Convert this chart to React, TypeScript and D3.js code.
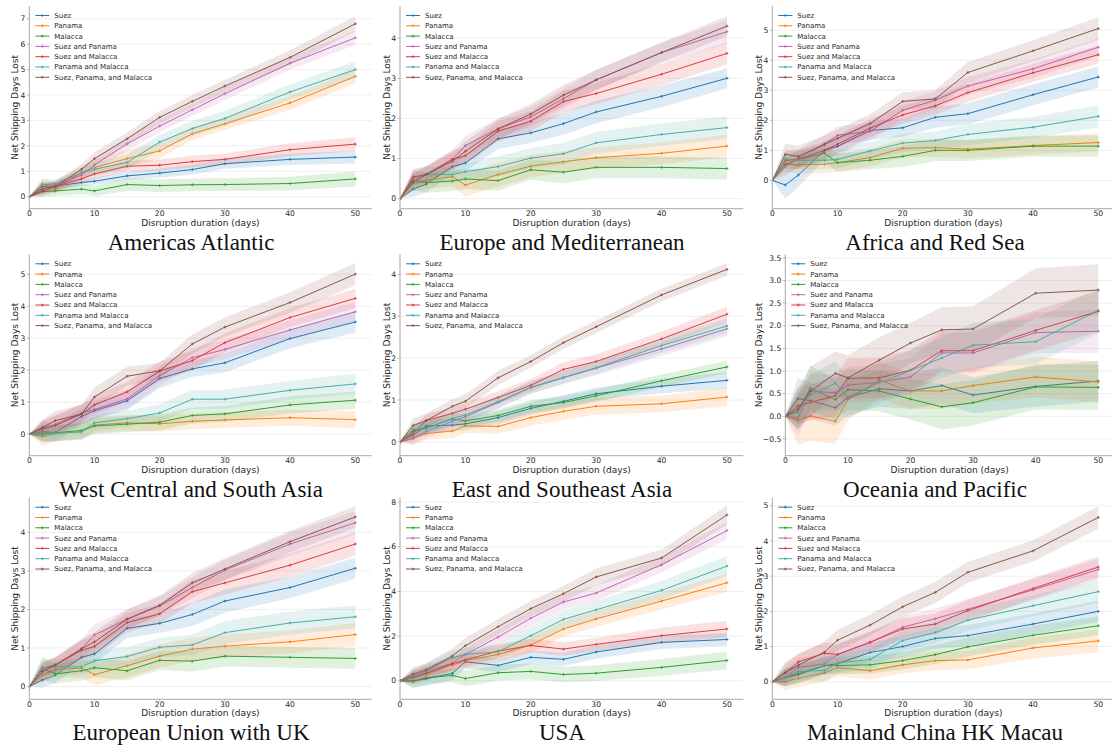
import * as d3 from "d3";
import React from "react";

// x values shared by every panel
const days = [0, 2, 4, 8, 10, 15, 20, 25, 30, 40, 50];
const xTicks = [0, 10, 20, 30, 40, 50];

const routes = [
  "Suez",
  "Panama",
  "Malacca",
  "Suez and Panama",
  "Suez and Malacca",
  "Panama and Malacca",
  "Suez, Panama, and Malacca",
];
const routeColors = ["#1f77b4", "#ff7f0e", "#2ca02c", "#c069b8", "#e0393e", "#4aaea3", "#8c564b"];

const regions = [
  "Americas Atlantic",
  "Europe and Mediterranean",
  "Africa and Red Sea",
  "West Central and South Asia",
  "East and Southeast Asia",
  "Oceania and Pacific",
  "European Union with UK",
  "USA",
  "Mainland China HK Macau",
];

// mean net shipping days lost, one row per route
const americasMean = [
  [0, 0.4, 0.42, 0.56, 0.61, 0.82, 0.93, 1.07, 1.3, 1.47, 1.56],
  [0, 0.5, 0.33, 0.95, 1.15, 1.5, 1.8, 2.48, 2.87, 3.69, 4.73],
  [0, 0.2, 0.23, 0.3, 0.23, 0.48, 0.44, 0.47, 0.48, 0.52, 0.7],
  [0, 0.3, 0.45, 0.85, 1.25, 2.08, 2.78, 3.42, 4.05, 5.25, 6.25],
  [0, 0.3, 0.42, 0.7, 0.9, 1.2, 1.24, 1.38, 1.47, 1.85, 2.07],
  [0, 0.48, 0.5, 0.95, 1.08, 1.35, 2.15, 2.68, 3.08, 4.12, 5.0],
  [0, 0.22, 0.4, 1.08, 1.5, 2.28, 3.12, 3.75, 4.35, 5.48, 6.8],
];
const americasCi = [
  [0, 0.2, 0.15, 0.15, 0.15, 0.15, 0.18, 0.2, 0.2, 0.22, 0.25],
  [0, 0.25, 0.2, 0.25, 0.3, 0.35, 0.3, 0.25, 0.25, 0.27, 0.28],
  [0, 0.2, 0.2, 0.2, 0.2, 0.25, 0.25, 0.25, 0.25, 0.27, 0.3],
  [0, 0.2, 0.2, 0.2, 0.25, 0.25, 0.25, 0.25, 0.25, 0.25, 0.28],
  [0, 0.2, 0.2, 0.2, 0.2, 0.22, 0.22, 0.23, 0.23, 0.25, 0.27],
  [0, 0.2, 0.2, 0.2, 0.25, 0.3, 0.3, 0.3, 0.3, 0.3, 0.33],
  [0, 0.2, 0.2, 0.2, 0.25, 0.25, 0.25, 0.25, 0.25, 0.28, 0.3],
];

const europeMean = [
  [0, 0.24, 0.36, 0.8, 0.89, 1.49, 1.64, 1.87, 2.16, 2.55, 3.0],
  [0, 0.38, 0.45, 0.55, 0.34, 0.6, 0.81, 0.92, 1.02, 1.13, 1.31],
  [0, 0.46, 0.4, 0.44, 0.49, 0.45, 0.72, 0.66, 0.78, 0.78, 0.75],
  [0, 0.5, 0.61, 0.98, 1.32, 1.74, 2.04, 2.49, 2.96, 3.64, 4.16],
  [0, 0.54, 0.6, 0.98, 1.07, 1.68, 1.93, 2.42, 2.62, 3.1, 3.62],
  [0, 0.42, 0.6, 0.6, 0.67, 0.8, 1.01, 1.12, 1.39, 1.6, 1.77],
  [0, 0.42, 0.6, 0.93, 1.18, 1.74, 2.11, 2.58, 2.96, 3.64, 4.3],
];
const europeCi = [
  [0, 0.2, 0.2, 0.2, 0.2, 0.25, 0.25, 0.28, 0.28, 0.27, 0.25],
  [0, 0.2, 0.2, 0.25, 0.28, 0.3, 0.28, 0.27, 0.27, 0.27, 0.28],
  [0, 0.25, 0.25, 0.25, 0.25, 0.25, 0.25, 0.28, 0.27, 0.27, 0.27],
  [0, 0.2, 0.2, 0.22, 0.25, 0.25, 0.25, 0.25, 0.25, 0.25, 0.3],
  [0, 0.2, 0.2, 0.22, 0.22, 0.25, 0.25, 0.27, 0.27, 0.27, 0.28],
  [0, 0.2, 0.2, 0.2, 0.22, 0.25, 0.25, 0.27, 0.27, 0.28, 0.28],
  [0, 0.2, 0.2, 0.22, 0.25, 0.25, 0.25, 0.25, 0.25, 0.25, 0.25],
];

const africaMean = [
  [0, -0.15, 0.18, 1.0, 1.13, 1.66, 1.75, 2.1, 2.22, 2.85, 3.44],
  [0, 0.54, 0.52, 0.54, 0.59, 0.76, 1.07, 1.09, 1.04, 1.16, 1.26],
  [0, 0.54, 0.69, 0.91, 0.59, 0.67, 0.8, 1.0, 1.0, 1.14, 1.14],
  [0, 0.45, 0.74, 1.2, 1.5, 1.63, 2.33, 2.67, 3.14, 3.71, 4.43],
  [0, 0.66, 0.71, 1.0, 1.2, 1.74, 2.18, 2.48, 2.92, 3.58, 4.18],
  [0, 0.71, 0.67, 0.67, 0.7, 0.98, 1.24, 1.33, 1.53, 1.77, 2.13],
  [0, 0.87, 0.8, 1.2, 1.4, 1.89, 2.63, 2.71, 3.59, 4.31, 5.05],
];
const africaCi = [
  [0, 0.45, 0.4, 0.3, 0.3, 0.3, 0.3, 0.35, 0.35, 0.35, 0.35],
  [0, 0.25, 0.3, 0.3, 0.3, 0.3, 0.3, 0.3, 0.3, 0.3, 0.3],
  [0, 0.3, 0.3, 0.3, 0.3, 0.3, 0.35, 0.35, 0.35, 0.35, 0.35],
  [0, 0.3, 0.3, 0.3, 0.3, 0.3, 0.3, 0.3, 0.3, 0.3, 0.3],
  [0, 0.3, 0.3, 0.3, 0.3, 0.3, 0.3, 0.3, 0.3, 0.3, 0.3],
  [0, 0.3, 0.3, 0.3, 0.3, 0.3, 0.3, 0.3, 0.35, 0.35, 0.37],
  [0, 0.35, 0.35, 0.3, 0.3, 0.3, 0.3, 0.3, 0.35, 0.35, 0.38],
];

const westAsiaMean = [
  [0, 0.07, 0.05, 0.55, 0.73, 1.04, 1.74, 2.04, 2.23, 2.99, 3.51],
  [0, -0.08, 0.02, 0.07, 0.28, 0.35, 0.32, 0.4, 0.44, 0.51, 0.45],
  [0, 0.0, 0.04, 0.11, 0.25, 0.31, 0.37, 0.58, 0.63, 0.91, 1.06],
  [0, 0.18, 0.3, 0.65, 0.77, 1.1, 1.83, 2.39, 2.65, 3.26, 3.83],
  [0, 0.15, 0.27, 0.62, 0.91, 1.32, 1.97, 2.3, 2.86, 3.65, 4.25],
  [0, 0.04, 0.02, 0.07, 0.35, 0.48, 0.66, 1.09, 1.09, 1.37, 1.57],
  [0, 0.2, 0.42, 0.62, 1.16, 1.81, 1.98, 2.82, 3.35, 4.12, 5.01],
];
const westAsiaCi = [
  [0, 0.3, 0.3, 0.25, 0.25, 0.3, 0.3, 0.25, 0.3, 0.3, 0.33],
  [0, 0.3, 0.25, 0.25, 0.25, 0.25, 0.25, 0.25, 0.25, 0.25, 0.27],
  [0, 0.25, 0.25, 0.25, 0.25, 0.25, 0.25, 0.25, 0.25, 0.27, 0.27],
  [0, 0.25, 0.3, 0.3, 0.3, 0.3, 0.3, 0.3, 0.3, 0.3, 0.3],
  [0, 0.25, 0.3, 0.3, 0.3, 0.3, 0.3, 0.3, 0.3, 0.3, 0.3],
  [0, 0.25, 0.25, 0.25, 0.25, 0.25, 0.27, 0.3, 0.3, 0.3, 0.32],
  [0, 0.25, 0.3, 0.3, 0.3, 0.3, 0.25, 0.3, 0.3, 0.32, 0.35],
];

const eastAsiaMean = [
  [0, 0.16, 0.38, 0.4, 0.43, 0.58, 0.8, 0.97, 1.15, 1.33, 1.47],
  [0, 0.08, 0.2, 0.26, 0.38, 0.37, 0.58, 0.73, 0.85, 0.91, 1.07],
  [0, 0.26, 0.33, 0.55, 0.5, 0.63, 0.85, 0.94, 1.1, 1.46, 1.79],
  [0, 0.09, 0.25, 0.49, 0.6, 0.94, 1.3, 1.53, 1.76, 2.22, 2.7],
  [0, 0.2, 0.51, 0.68, 0.78, 1.06, 1.35, 1.73, 1.92, 2.46, 3.05],
  [0, 0.3, 0.31, 0.56, 0.64, 0.96, 1.3, 1.54, 1.77, 2.3, 2.77],
  [0, 0.39, 0.51, 0.85, 0.97, 1.53, 1.92, 2.37, 2.75, 3.51, 4.12],
];
const eastAsiaCi = [
  [0, 0.15, 0.15, 0.15, 0.15, 0.15, 0.15, 0.15, 0.15, 0.17, 0.2],
  [0, 0.15, 0.15, 0.17, 0.17, 0.17, 0.2, 0.2, 0.2, 0.2, 0.22],
  [0, 0.15, 0.15, 0.15, 0.15, 0.15, 0.15, 0.15, 0.15, 0.15, 0.15],
  [0, 0.15, 0.15, 0.15, 0.15, 0.15, 0.15, 0.15, 0.17, 0.17, 0.18],
  [0, 0.15, 0.15, 0.15, 0.15, 0.15, 0.15, 0.17, 0.17, 0.17, 0.18],
  [0, 0.15, 0.15, 0.15, 0.15, 0.15, 0.15, 0.15, 0.15, 0.17, 0.18],
  [0, 0.17, 0.17, 0.17, 0.17, 0.17, 0.15, 0.15, 0.15, 0.15, 0.15],
];

const oceaniaMean = [
  [0, 0.39, 0.35, 0.19, 0.42, 0.61, 0.56, 0.68, 0.47, 0.66, 0.78],
  [0, -0.09, 0.01, -0.11, 0.37, 0.8, 0.56, 0.56, 0.68, 0.87, 0.76],
  [0, 0.1, 0.62, 0.37, 0.59, 0.56, 0.38, 0.21, 0.3, 0.65, 0.64],
  [0, -0.04, 0.56, 0.52, 0.69, 0.75, 0.87, 1.4, 1.4, 1.85, 1.88],
  [0, 0.23, 0.31, 0.45, 0.84, 0.85, 1.02, 1.45, 1.45, 1.9, 2.32],
  [0, 0.11, 0.47, 0.73, 0.42, 0.74, 1.01, 1.29, 1.57, 1.65, 2.34],
  [0, 0.16, 0.55, 0.95, 0.85, 1.24, 1.62, 1.91, 1.93, 2.72, 2.79],
];
const oceaniaCi = [
  [0, 0.45, 0.4, 0.4, 0.4, 0.4, 0.4, 0.4, 0.4, 0.45, 0.45],
  [0, 0.55, 0.55, 0.5, 0.45, 0.4, 0.4, 0.4, 0.4, 0.45, 0.45],
  [0, 0.35, 0.5, 0.45, 0.45, 0.45, 0.45, 0.5, 0.5, 0.5, 0.5],
  [0, 0.4, 0.4, 0.4, 0.4, 0.4, 0.4, 0.45, 0.45, 0.45, 0.48],
  [0, 0.4, 0.4, 0.45, 0.45, 0.45, 0.45, 0.45, 0.45, 0.45, 0.45],
  [0, 0.4, 0.45, 0.5, 0.45, 0.45, 0.45, 0.45, 0.5, 0.5, 0.5],
  [0, 0.45, 0.55, 0.48, 0.5, 0.5, 0.45, 0.5, 0.5, 0.55, 0.57],
];

const euUkMean = [
  [0, 0.17, 0.3, 0.76, 0.85, 1.51, 1.64, 1.87, 2.22, 2.57, 3.07],
  [0, 0.3, 0.44, 0.48, 0.31, 0.54, 0.79, 0.97, 1.05, 1.16, 1.35],
  [0, 0.48, 0.33, 0.41, 0.49, 0.41, 0.68, 0.66, 0.79, 0.76, 0.73],
  [0, 0.39, 0.56, 0.98, 1.34, 1.75, 2.09, 2.57, 3.02, 3.7, 4.25],
  [0, 0.47, 0.56, 0.94, 1.04, 1.66, 1.89, 2.46, 2.69, 3.15, 3.7],
  [0, 0.48, 0.51, 0.51, 0.67, 0.78, 1.02, 1.08, 1.4, 1.65, 1.81],
  [0, 0.39, 0.56, 0.98, 1.16, 1.75, 2.11, 2.69, 3.05, 3.76, 4.4],
];
const euUkCi = [
  [0, 0.2, 0.2, 0.2, 0.25, 0.25, 0.25, 0.3, 0.3, 0.28, 0.27],
  [0, 0.2, 0.2, 0.25, 0.28, 0.3, 0.3, 0.3, 0.3, 0.3, 0.3],
  [0, 0.3, 0.25, 0.25, 0.25, 0.25, 0.25, 0.27, 0.27, 0.27, 0.27],
  [0, 0.2, 0.2, 0.25, 0.28, 0.25, 0.25, 0.27, 0.27, 0.3, 0.3],
  [0, 0.2, 0.2, 0.25, 0.25, 0.25, 0.25, 0.3, 0.3, 0.3, 0.3],
  [0, 0.2, 0.2, 0.2, 0.25, 0.25, 0.25, 0.27, 0.3, 0.3, 0.3],
  [0, 0.2, 0.2, 0.25, 0.25, 0.25, 0.25, 0.25, 0.28, 0.28, 0.28],
];

const usaMean = [
  [0, 0.0, 0.09, 0.33, 0.85, 0.69, 1.05, 0.96, 1.29, 1.72, 1.85],
  [0, 0.15, 0.33, 0.7, 0.9, 1.18, 1.6, 2.32, 2.77, 3.57, 4.39],
  [0, -0.03, 0.13, 0.24, 0.1, 0.36, 0.42, 0.28, 0.34, 0.6, 0.91],
  [0, 0.21, 0.43, 0.78, 1.18, 1.96, 2.8, 3.53, 3.93, 5.2, 6.73],
  [0, 0.15, 0.33, 0.76, 0.94, 1.33, 1.58, 1.42, 1.63, 2.02, 2.32],
  [0, 0.21, 0.46, 1.03, 1.18, 1.3, 2.02, 2.75, 3.18, 4.05, 5.14],
  [0, 0.3, 0.49, 1.11, 1.57, 2.42, 3.23, 3.9, 4.65, 5.5, 7.43],
];
const usaCi = [
  [0, 0.3, 0.3, 0.3, 0.3, 0.3, 0.3, 0.3, 0.3, 0.3, 0.3],
  [0, 0.3, 0.3, 0.3, 0.35, 0.35, 0.35, 0.35, 0.35, 0.38, 0.4],
  [0, 0.3, 0.3, 0.3, 0.35, 0.35, 0.35, 0.35, 0.35, 0.38, 0.4],
  [0, 0.3, 0.3, 0.3, 0.3, 0.35, 0.35, 0.35, 0.35, 0.35, 0.38],
  [0, 0.3, 0.3, 0.3, 0.3, 0.3, 0.3, 0.3, 0.3, 0.35, 0.37],
  [0, 0.3, 0.3, 0.3, 0.3, 0.35, 0.4, 0.4, 0.4, 0.42, 0.45],
  [0, 0.3, 0.3, 0.35, 0.35, 0.35, 0.35, 0.35, 0.38, 0.38, 0.42],
];

const chinaMean = [
  [0, 0.12, 0.2, 0.46, 0.51, 0.83, 1.0, 1.23, 1.31, 1.64, 2.0],
  [0, 0.0, 0.1, 0.25, 0.4, 0.31, 0.48, 0.6, 0.62, 0.96, 1.16],
  [0, 0.12, 0.23, 0.46, 0.46, 0.48, 0.6, 0.77, 0.99, 1.32, 1.59],
  [0, 0.12, 0.41, 0.5, 0.78, 1.12, 1.55, 1.79, 2.06, 2.61, 3.19],
  [0, 0.25, 0.56, 0.81, 0.77, 1.12, 1.5, 1.64, 2.02, 2.65, 3.26],
  [0, 0.12, 0.29, 0.32, 0.53, 0.63, 1.17, 1.4, 1.75, 2.16, 2.56],
  [0, 0.26, 0.47, 0.84, 1.18, 1.61, 2.13, 2.54, 3.11, 3.72, 4.67],
];
const chinaCi = [
  [0, 0.25, 0.25, 0.25, 0.25, 0.28, 0.3, 0.3, 0.3, 0.3, 0.3],
  [0, 0.25, 0.25, 0.25, 0.25, 0.25, 0.25, 0.27, 0.27, 0.3, 0.32],
  [0, 0.25, 0.25, 0.25, 0.25, 0.25, 0.25, 0.27, 0.27, 0.27, 0.27],
  [0, 0.25, 0.25, 0.3, 0.3, 0.3, 0.3, 0.3, 0.3, 0.3, 0.3],
  [0, 0.25, 0.25, 0.3, 0.3, 0.3, 0.3, 0.3, 0.3, 0.3, 0.3],
  [0, 0.25, 0.25, 0.3, 0.3, 0.3, 0.3, 0.3, 0.3, 0.3, 0.32],
  [0, 0.3, 0.3, 0.3, 0.3, 0.3, 0.3, 0.3, 0.3, 0.3, 0.32],
];

const yTicks = [
  [0, 1, 2, 3, 4, 5, 6, 7],
  [0, 1, 2, 3, 4],
  [0, 1, 2, 3, 4, 5],
  [0, 1, 2, 3, 4, 5],
  [0, 1, 2, 3, 4],
  [-0.5, 0, 0.5, 1, 1.5, 2, 2.5, 3, 3.5],
  [0, 1, 2, 3, 4],
  [0, 2, 4, 6, 8],
  [0, 1, 2, 3, 4, 5],
];
const yLimits = [
  [-0.47, 7.5],
  [-0.25, 4.8],
  [-0.94, 5.8],
  [-0.68, 5.63],
  [-0.33, 4.48],
  [-0.87, 3.58],
  [-0.33, 4.9],
  [-0.83, 8.2],
  [-0.5, 5.23],
];

const means = [americasMean, europeMean, africaMean, westAsiaMean, eastAsiaMean, oceaniaMean, euUkMean, usaMean, chinaMean];
const cis = [americasCi, europeCi, africaCi, westAsiaCi, eastAsiaCi, oceaniaCi, euUkCi, usaCi, chinaCi];

// layout (pixels)
const W = 1112;
const H = 751;
const plotLeft = [29.3, 400, 772.3, 29.3, 400, 785.3, 29.3, 400, 772.3];
const plotX50 = [355.3, 727, 1098.3];
const rowTop = [6, 254.3, 497.7];
const rowBottom = [208.7, 455.7, 699.3];
const yLabelX = [15, 386.7, 759];
const titleX = [191, 562, 935];

const sans = "'DejaVu Sans', sans-serif";
const axisGray = "#a8a8a8";
const textColor = "#262626";

const Panel = ({ idx }: { idx: number }) => {
  const col = idx % 3;
  const row = Math.floor(idx / 3);
  const left = plotLeft[idx];
  const top = rowTop[row];
  const bottom = rowBottom[row];

  const x = d3.scaleLinear().domain([0, 50]).range([left, plotX50[col]]);
  const right = x(52.5);
  const y = d3.scaleLinear().domain(yLimits[idx]).range([bottom, top]);

  const fmt = yTicks[idx].some((t) => !Number.isInteger(t)) ? d3.format(".1f") : d3.format("d");
  const clipId = `clip-${idx}`;

  return (
    <g>
      <defs>
        <clipPath id={clipId}>
          <rect x={left} y={top} width={right - left} height={bottom - top} />
        </clipPath>
      </defs>

      {/* grid */}
      {yTicks[idx].map((t) => (
        <line key={t} x1={left} x2={right} y1={y(t)} y2={y(t)} stroke="#ebebeb" strokeWidth={0.8} />
      ))}

      {/* bands and lines */}
      <g clipPath={`url(#${clipId})`}>
        {routes.map((r, s) => {
          const m = means[idx][s];
          const ci = cis[idx][s];
          const area = d3
            .area<number>()
            .x((_, i) => x(days[i]))
            .y0((d, i) => y(d - ci[i]))
            .y1((d, i) => y(d + ci[i]));
          const line = d3
            .line<number>()
            .x((_, i) => x(days[i]))
            .y((d) => y(d));
          return (
            <g key={r}>
              <path d={area(m) || ""} fill={routeColors[s]} fillOpacity={0.15} stroke="none" />
              <path d={line(m) || ""} fill="none" stroke={routeColors[s]} strokeWidth={1} />
              {m.map((d, i) => (
                <path
                  key={i}
                  d={`M${x(days[i]) - 1.4},${y(d)}h2.8M${x(days[i])},${y(d) - 1.4}v2.8`}
                  stroke={routeColors[s]}
                  strokeWidth={0.9}
                />
              ))}
            </g>
          );
        })}
      </g>

      {/* spines */}
      <line x1={left} x2={left} y1={top} y2={bottom} stroke={axisGray} strokeWidth={1} />
      <line x1={left} x2={right} y1={bottom} y2={bottom} stroke={axisGray} strokeWidth={1} />

      {/* y ticks */}
      {yTicks[idx].map((t) => (
        <g key={t}>
          <line x1={left - 2.5} x2={left} y1={y(t)} y2={y(t)} stroke={axisGray} strokeWidth={0.8} />
          <text
            x={left - 4}
            y={y(t)}
            dy="0.35em"
            textAnchor="end"
            fontFamily={sans}
            fontSize={7.6}
            fill={textColor}
          >
            {fmt(t)}
          </text>
        </g>
      ))}

      {/* x ticks */}
      {xTicks.map((t) => (
        <g key={t}>
          <line x1={x(t)} x2={x(t)} y1={bottom} y2={bottom + 2} stroke={axisGray} strokeWidth={0.8} />
          <text x={x(t)} y={bottom + 7.6} textAnchor="middle" fontFamily={sans} fontSize={7.6} fill={textColor}>
            {t}
          </text>
        </g>
      ))}

      <text
        x={(left + right) / 2}
        y={bottom + 17}
        textAnchor="middle"
        fontFamily={sans}
        fontSize={9}
        fill={textColor}
      >
        Disruption duration (days)
      </text>
      <text
        transform={`translate(${yLabelX[col]},${(top + bottom) / 2}) rotate(-90)`}
        dy="0.35em"
        textAnchor="middle"
        fontFamily={sans}
        fontSize={9}
        fill={textColor}
      >
        Net Shipping Days Lost
      </text>

      {/* legend */}
      {routes.map((r, s) => {
        const ly = top + 9.5 + s * 10.3;
        return (
          <g key={r}>
            <line x1={left + 6} x2={left + 20} y1={ly} y2={ly} stroke={routeColors[s]} strokeWidth={1} />
            <path d={`M${left + 11.6},${ly}h2.8M${left + 13},${ly - 1.4}v2.8`} stroke={routeColors[s]} strokeWidth={0.9} />
            <text x={left + 25} y={ly} dy="0.35em" fontFamily={sans} fontSize={7} fill={textColor}>
              {r}
            </text>
          </g>
        );
      })}

      {/* region title */}
      <text
        x={titleX[col]}
        y={bottom + 41}
        textAnchor="middle"
        fontFamily="'Liberation Serif', 'Times New Roman', serif"
        fontSize={23}
        fill="#111"
      >
        {regions[idx]}
      </text>
    </g>
  );
};

const App = () => {
  return (
    <svg
      width={W}
      height={H}
      style={{ position: "absolute", left: 0, top: 0, background: "#fff" }}
    >
      <rect width={W} height={H} fill="#fff" />
      {regions.map((_, i) => (
        <Panel key={i} idx={i} />
      ))}
    </svg>
  );
};

export default App;
